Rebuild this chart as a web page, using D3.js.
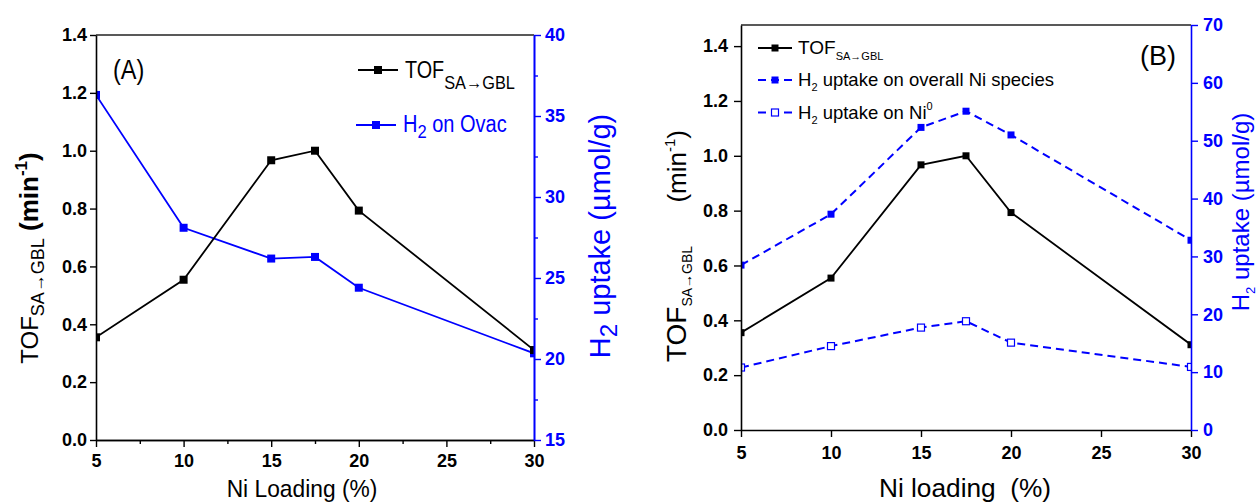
<!DOCTYPE html>
<html><head><meta charset="utf-8">
<script src="https://cdn.jsdelivr.net/npm/d3@7"></script>
<style>
body{margin:0;background:#fff}
svg{display:block}
text{font-family:"Liberation Sans",Arial,Helvetica,sans-serif}
</style>
</head><body>
<svg id="c" width="1260" height="504"></svg>
<script>
// ---------- data ----------
const loading   = [5, 10, 15, 17.5, 20, 30];
const tof       = [0.355, 0.554, 0.967, 1.0, 0.793, 0.311];
const h2Ovac    = [36.3, 28.1, 26.2, 26.3, 24.4, 20.35];
const h2Overall = [28.5, 37.3, 52.3, 55.1, 51.0, 32.8];
const h2Ni0     = [10.8, 14.5, 17.7, 18.8, 15.1, 10.9];

const xTicks    = [5, 10, 15, 20, 25, 30];
const xMinorA   = [7.5, 12.5, 17.5, 22.5, 27.5];
const tofTicks  = [0, 0.2, 0.4, 0.6, 0.8, 1.0, 1.2, 1.4];
const h2TicksA  = [15, 20, 25, 30, 35, 40];
const h2MinorA  = [17.5, 22.5, 27.5, 32.5, 37.5];
const h2TicksB  = [0, 10, 20, 30, 40, 50, 60, 70];

const BLUE = "#0000ff";
const svg = d3.select("#c");

function label(parent, o) {
  const g = parent.append("g")
    .attr("transform", `translate(${o.x},${o.y}) rotate(${o.rotate||0}) scale(${o.sx||1},1)`);
  const t = g.append("text")
    .attr("text-anchor", o.anchor || "middle")
    .attr("font-size", o.size)
    .attr("font-weight", o.weight || "normal")
    .attr("fill", o.fill || "#000")
    .style("white-space", "pre");
  o.parts.forEach(p => {
    t.append("tspan").text(p.t)
      .attr("font-size", p.size || o.size)
      .attr("font-weight", p.weight || o.weight || "normal")
      .attr("dy", p.dy || 0);
  });
  return t;
}

function styleAxis(g, color, fs) {
  g.select(".domain").attr("stroke", color).attr("stroke-width", 1.6);
  g.selectAll(".tick line").attr("stroke", color).attr("stroke-width", 1.4);
  g.selectAll(".tick text").attr("fill", color).attr("font-size", fs)
    .attr("font-weight", "bold").attr("font-family", '"Liberation Sans",Arial,sans-serif');
}

function series(g, x, y, vals, o) {
  const pts = loading.map((d, i) => [x(d), y(vals[i])]);
  g.append("path").attr("d", d3.line()(pts)).attr("fill", "none")
    .attr("stroke", o.color).attr("stroke-width", o.lw)
    .attr("stroke-dasharray", o.dash || null);
  const s = o.ms;
  g.selectAll(null).data(pts).enter().append("rect")
    .attr("x", d => d[0] - s / 2).attr("y", d => d[1] - s / 2)
    .attr("width", s).attr("height", s)
    .attr("fill", o.open ? "#fff" : o.color)
    .attr("stroke", o.open ? o.color : "none").attr("stroke-width", 1.2);
}

function legendItem(g, x1, x2, y, o) {
  g.append("line").attr("x1", x1).attr("x2", x2).attr("y1", y).attr("y2", y)
    .attr("stroke", o.color).attr("stroke-width", o.lw)
    .attr("stroke-dasharray", o.dash || null);
  const s = o.ms, cx = (x1 + x2) / 2;
  g.append("rect").attr("x", cx - s / 2).attr("y", y - s / 2).attr("width", s).attr("height", s)
    .attr("fill", o.open ? "#fff" : o.color)
    .attr("stroke", o.open ? o.color : "none").attr("stroke-width", 1.2);
}

// ================= Panel A =================
(function () {
  const L = 96, R = 534, T = 35, B = 440;
  const x = d3.scaleLinear().domain([5, 30]).range([L, R]);
  const yL = d3.scaleLinear().domain([0, 1.4]).range([B, T]);
  const yR = d3.scaleLinear().domain([15, 40]).range([B, T]);

  svg.append("clipPath").attr("id", "clipA").append("rect")
    .attr("x", L).attr("y", T).attr("width", R - L).attr("height", B - T);
  const data = svg.append("g").attr("clip-path", "url(#clipA)");
  series(data, x, yR, h2Ovac, { color: BLUE, lw: 1.8, ms: 8 });
  series(data, x, yL, tof, { color: "#000", lw: 1.8, ms: 8 });

  svg.append("line").attr("x1", L).attr("x2", R).attr("y1", T).attr("y2", T)
    .attr("stroke", "#222").attr("stroke-width", 1.6);

  const gx = svg.append("g").attr("transform", `translate(0,${B})`)
    .call(d3.axisBottom(x).tickValues(xTicks).tickSize(7).tickSizeOuter(0).tickPadding(7).tickFormat(d3.format("d")));
  styleAxis(gx, "#000", 18);
  const gxm = svg.append("g").attr("transform", `translate(0,${B})`)
    .call(d3.axisBottom(x).tickValues(xMinorA).tickSize(4).tickSizeOuter(0).tickFormat(""));
  styleAxis(gxm, "#000", 18);

  const gl = svg.append("g").attr("transform", `translate(${L},0)`)
    .call(d3.axisLeft(yL).tickValues(tofTicks).tickSize(6).tickSizeOuter(0).tickPadding(3).tickFormat(d3.format(".1f")));
  styleAxis(gl, "#000", 18);

  const gr = svg.append("g").attr("transform", `translate(${R},0)`)
    .call(d3.axisRight(yR).tickValues(h2TicksA).tickSize(7).tickSizeOuter(0).tickPadding(4).tickFormat(d3.format("d")));
  styleAxis(gr, BLUE, 18);
  const grm = svg.append("g").attr("transform", `translate(${R},0)`)
    .call(d3.axisRight(yR).tickValues(h2MinorA).tickSize(4).tickSizeOuter(0).tickFormat(""));
  styleAxis(grm, BLUE, 18);

  // titles
  label(svg, { x: 302, y: 497, size: 24, sx: 0.95, parts: [{ t: "Ni Loading (%)" }] });
  label(svg, { x: 38, y: 258, rotate: -90, size: 24, parts: [
    { t: "TOF" }, { t: "SA→GBL", size: 18, dy: 6 },
    { t: " (min", weight: "bold", size: 26, dy: -6 }, { t: "-1", size: 17, weight: "bold", dy: -11 },
    { t: ")", weight: "bold", size: 26, dy: 11 }] });
  label(svg, { x: 610, y: 236, rotate: -90, size: 29, fill: BLUE, parts: [
    { t: "H" }, { t: "2", size: 24, dy: 7 }, { t: " uptake (µmol/g)", dy: -7 }] });

  label(svg, { x: 113, y: 79, anchor: "start", size: 27, sx: 0.87, parts: [{ t: "(A)" }] });

  const lg = svg.append("g");
  legendItem(lg, 358, 398, 70, { color: "#000", lw: 1.8, ms: 8 });
  label(lg, { x: 405, y: 77.5, anchor: "start", size: 23, sx: 0.86, parts: [
    { t: "TOF" }, { t: "SA→GBL", size: 19, dy: 11 }] });
  legendItem(lg, 356, 396, 125, { color: BLUE, lw: 1.8, ms: 8 });
  label(lg, { x: 403, y: 132, anchor: "start", size: 23, sx: 0.87, fill: BLUE, parts: [
    { t: "H" }, { t: "2", size: 19, dy: 6 }, { t: " on Ovac", dy: -6 }] });
})();

// ================= Panel B =================
(function () {
  const L = 741, R = 1191, T = 25, B = 430;
  const x = d3.scaleLinear().domain([5, 30]).range([L, R]);
  const yL = d3.scaleLinear().domain([0, 1.477]).range([B, T]);
  const yR = d3.scaleLinear().domain([0, 70]).range([B, T]);

  svg.append("clipPath").attr("id", "clipB").append("rect")
    .attr("x", L).attr("y", T).attr("width", R - L).attr("height", B - T);
  const data = svg.append("g").attr("clip-path", "url(#clipB)");
  series(data, x, yR, h2Ni0, { color: BLUE, lw: 2, ms: 7, dash: "8,5", open: true });
  series(data, x, yR, h2Overall, { color: BLUE, lw: 2, ms: 7, dash: "8,5" });
  series(data, x, yL, tof, { color: "#000", lw: 1.8, ms: 7 });

  svg.append("line").attr("x1", L).attr("x2", R).attr("y1", T).attr("y2", T)
    .attr("stroke", "#222").attr("stroke-width", 1.6);

  const gx = svg.append("g").attr("transform", `translate(0,${B})`)
    .call(d3.axisBottom(x).tickValues(xTicks).tickSize(7).tickSizeOuter(0).tickPadding(9).tickFormat(d3.format("d")));
  styleAxis(gx, "#000", 18);

  const gl = svg.append("g").attr("transform", `translate(${L},0)`)
    .call(d3.axisLeft(yL).tickValues(tofTicks).tickSize(7).tickSizeOuter(0).tickPadding(6).tickFormat(d3.format(".1f")));
  styleAxis(gl, "#000", 18);

  const gr = svg.append("g").attr("transform", `translate(${R},0)`)
    .call(d3.axisRight(yR).tickValues(h2TicksB).tickSize(7).tickSizeOuter(0).tickPadding(5).tickFormat(d3.format("d")));
  styleAxis(gr, BLUE, 18);

  label(svg, { x: 965, y: 497, size: 25, sx: 1.05, parts: [{ t: "Ni loading  (%)" }] });
  label(svg, { x: 686, y: 246, rotate: -90, size: 28, parts: [
    { t: "TOF" }, { t: "SA→GBL", size: 14, dy: 6 },
    { t: "      (min", size: 26, dy: -6 }, { t: "-1", size: 15, dy: -11 }, { t: ")", size: 26, dy: 11 }] });
  label(svg, { x: 1249, y: 212, rotate: -90, size: 24, fill: BLUE, parts: [
    { t: "H" }, { t: "2", size: 13, dy: 6 }, { t: " uptake (µmol/g)", dy: -6 }] });

  label(svg, { x: 1140, y: 65, anchor: "start", size: 27, parts: [{ t: "(B)" }] });

  const lg = svg.append("g");
  legendItem(lg, 758, 792, 48, { color: "#000", lw: 1.8, ms: 7 });
  label(lg, { x: 798, y: 54, anchor: "start", size: 19, parts: [
    { t: "TOF" }, { t: "SA→GBL", size: 11, dy: 6 }] });
  legendItem(lg, 758, 792, 80, { color: BLUE, lw: 2, ms: 7, dash: "8,5" });
  label(lg, { x: 798, y: 86, anchor: "start", size: 18.5, parts: [
    { t: "H" }, { t: "2", size: 11, dy: 5 }, { t: " uptake on overall Ni species", dy: -5 }] });
  legendItem(lg, 758, 792, 112.5, { color: BLUE, lw: 2, ms: 7, dash: "8,5", open: true });
  label(lg, { x: 798, y: 118.5, anchor: "start", size: 18.5, parts: [
    { t: "H" }, { t: "2", size: 11, dy: 5 }, { t: " uptake on Ni", dy: -5 }, { t: "0", size: 11, dy: -9 }] });
})();
</script>
</body></html>
